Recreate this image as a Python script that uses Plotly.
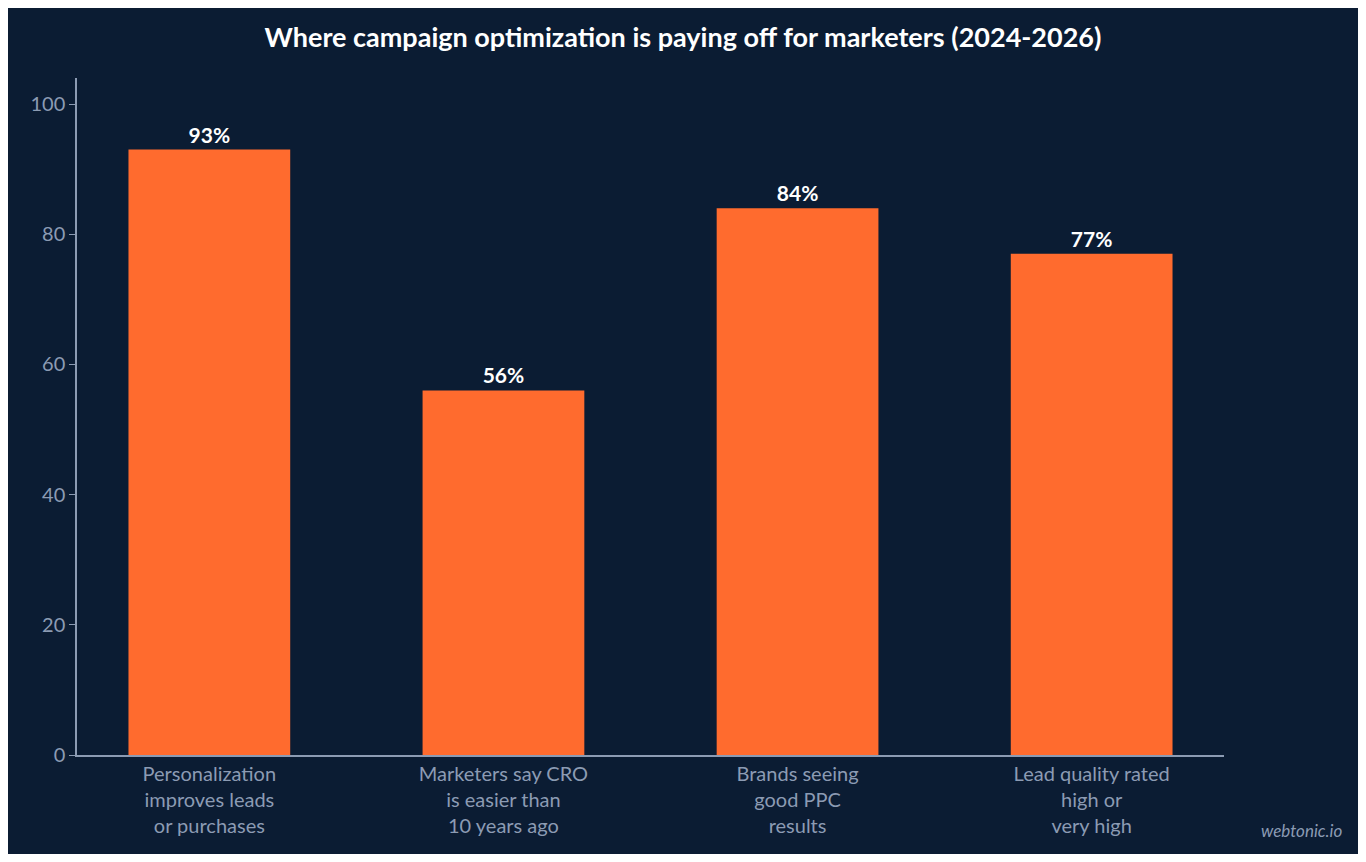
import plotly.graph_objects as go

categories = ["Personalization<br>improves leads<br>or purchases",
              "Marketers say CRO<br>is easier than<br>10 years ago",
              "Brands seeing<br>good PPC<br>results",
              "Lead quality rated<br>high or<br>very high"]
values = [93, 56, 84, 77]
labels = [f"{v}%" for v in values]

bg = "#0b1c33"
axis_col = "#8c9bb3"

fig = go.Figure(go.Bar(
    x=list(range(len(categories))), y=values, width=0.55,
    marker=dict(color="#ff6b2e", line=dict(width=0)),
    text=labels, textposition="outside",
    textfont=dict(family="Lato", size=21, color="white", weight="bold"),
    cliponaxis=False,
))

fig.update_layout(
    paper_bgcolor=bg, plot_bgcolor=bg,
    margin=dict(l=69, r=134, t=70, b=99),
    font=dict(family="Lato", color=axis_col),
    title=dict(text="<b>Where campaign optimization is paying off for marketers (2024-2026)</b>",
               x=0.5, xanchor="center", yref="container", y=0.965, yanchor="middle",
               font=dict(family="Lato", size=27, color="white")),
    showlegend=False,
    xaxis=dict(tickvals=list(range(len(categories))), ticktext=categories,
               range=[-0.45, 3.45], showgrid=False, showline=True,
               linecolor=axis_col, linewidth=1.5, ticks="",
               tickfont=dict(size=20, color=axis_col)),
    yaxis=dict(range=[0, 104], tickvals=[0, 20, 40, 60, 80, 100],
               showgrid=False, zeroline=False, showline=True,
               linecolor=axis_col, linewidth=1.5, ticks="outside",
               ticklen=6, tickcolor=axis_col,
               tickfont=dict(size=20, color=axis_col)),
    annotations=[dict(text="<i>webtonic.io</i>", xref="paper", yref="paper",
                      x=1.105, y=-0.13, xanchor="right", yanchor="bottom",
                      showarrow=False, font=dict(size=17, color=axis_col))],
)

fig.write_html("out.html")
